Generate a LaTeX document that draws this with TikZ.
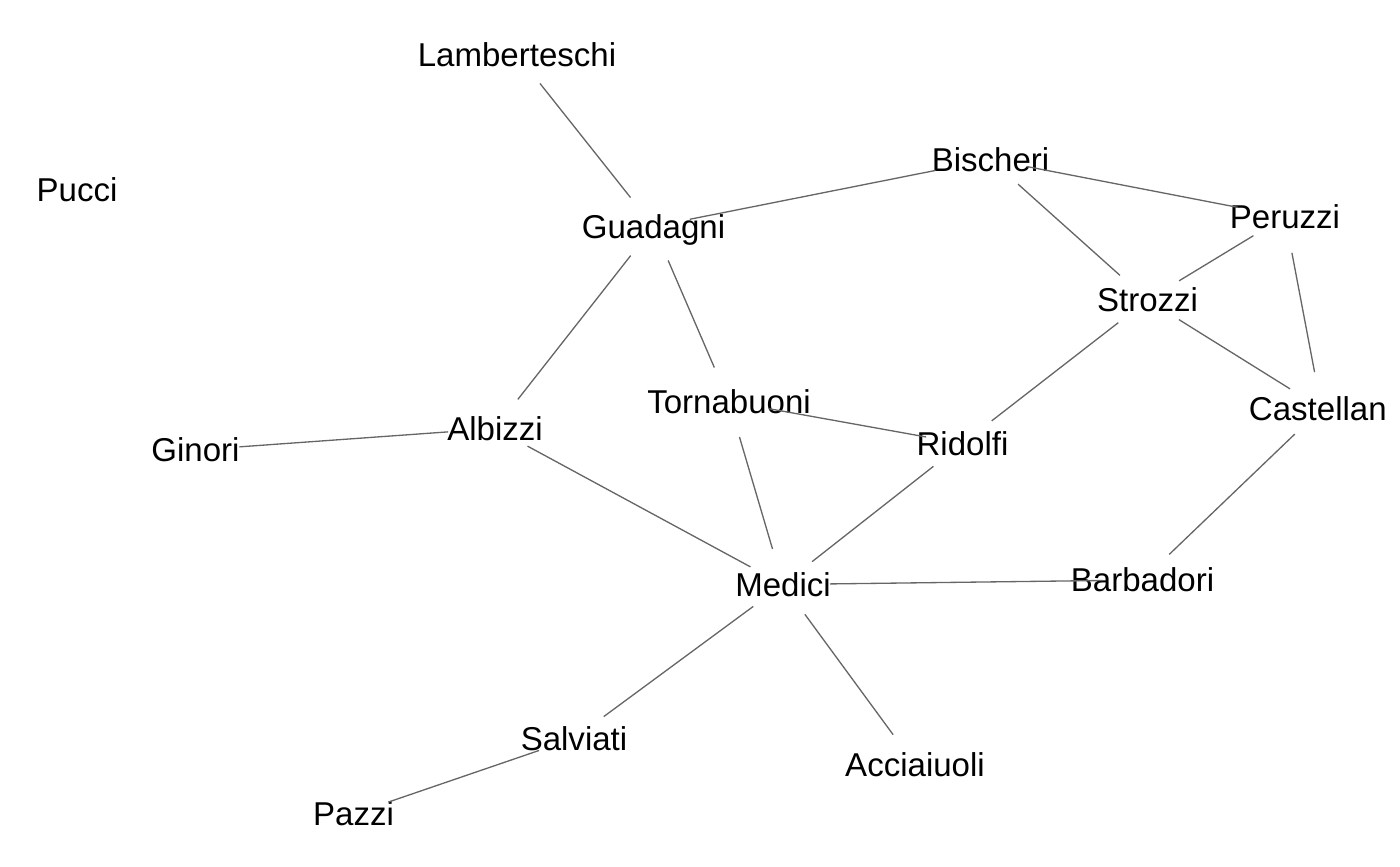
\documentclass[tikz,border=0pt]{standalone}
\usepackage{fontspec}
\setmainfont{Liberation Sans}
\usepackage{tikz}
\usetikzlibrary{arrows,positioning}
\usepackage{xcolor}
\definecolor{linkgray}{HTML}{666666}
\tikzset{family/.style={inner sep=0pt,text height=13.46pt,text depth=0pt,font=\fontsize{18.8pt}{22pt}\selectfont}}
\tikzset{link/.style={-,draw=linkgray,line width=0.75pt,shorten <=0.74cm,shorten >=0.74cm}}

\begin{document}
\begin{tikzpicture}[x=0.02cm,y=-0.02cm]
% \draw[help lines] (0,0) grid (1400,866);
\useasboundingbox (0,0) rectangle (1400,866);
\clip (0,0) rectangle (1386,866);
\node (lamberteschi) [family] at (517,54.5) {Lamberteschi};
\node (pucci) [family] at (77,190) {Pucci};
\node (guadagni) [family] at (653.5,226.5) {Guadagni};
\node (bischeri) [family] at (990.5,159.5) {Bischeri};
\node (peruzzi) [family] at (1285,216.5) {Peruzzi};
\node (strozzi) [family] at (1147.5,300) {Strozzi};
\node (castellani) [family] at (1321.5,408.5) {Castellani};
\node (tornabuoni) [family] at (729,401.5) {Tornabuoni};
\node (albizzi) [family] at (495,428.5) {Albizzi};
\node (ginori) [family] at (195.5,450) {Ginori};
\node (ridolfi) [family] at (962.5,443.5) {Ridolfi};
\node (medici) [family] at (783,584.5) {Medici};
\node (barbadori) [family] at (1142.5,580) {Barbadori};
\node (salviati) [family] at (574,738.5) {Salviati};
\node (acciaiuoli) [family] at (915,764.5) {Acciaiuoli};
\node (pazzi) [family] at (353.5,814) {Pazzi};
%
{\path[link](lamberteschi.center) edge (guadagni.center);}
{\path[link,shorten >=1.12cm](guadagni.center) edge (bischeri.center);}
{\path[link,shorten >=0.96cm](bischeri.center) edge (peruzzi.center);}
{\path[link](bischeri.center) edge (strozzi.center);}
{\path[link](peruzzi.center) edge (strozzi.center);}
{\path[link](peruzzi.center) edge (castellani.center);}
{\path[link](strozzi.center) edge (castellani.center);}
{\path[link](strozzi.center) edge (ridolfi.center);}
%
{\path[link](guadagni.center) edge (albizzi.center);}
{\path[link](guadagni.center) edge (tornabuoni.center);}
{\path[link,shorten <=0.82cm](tornabuoni.center) edge (ridolfi.center);}
{\path[link](tornabuoni.center) edge (medici.center);}
{\path[link,shorten <=0.88cm,shorten >=0.94cm](ginori.center) edge (albizzi.center);}
{\path[link](albizzi.center) edge (medici.center);}
{\path[link](ridolfi.center) edge (medici.center);}
%
{\path[link,shorten <=0.94cm,shorten >=0.79cm](medici.center) edge (barbadori.center);}
{\path[link](castellani.center) edge (barbadori.center);}
{\path[link](medici.center) edge (salviati.center);}
{\path[link](medici.center) edge (acciaiuoli.center);}
{\path[link](salviati.center) edge (pazzi.center);}
\end{tikzpicture}
\end{document}
